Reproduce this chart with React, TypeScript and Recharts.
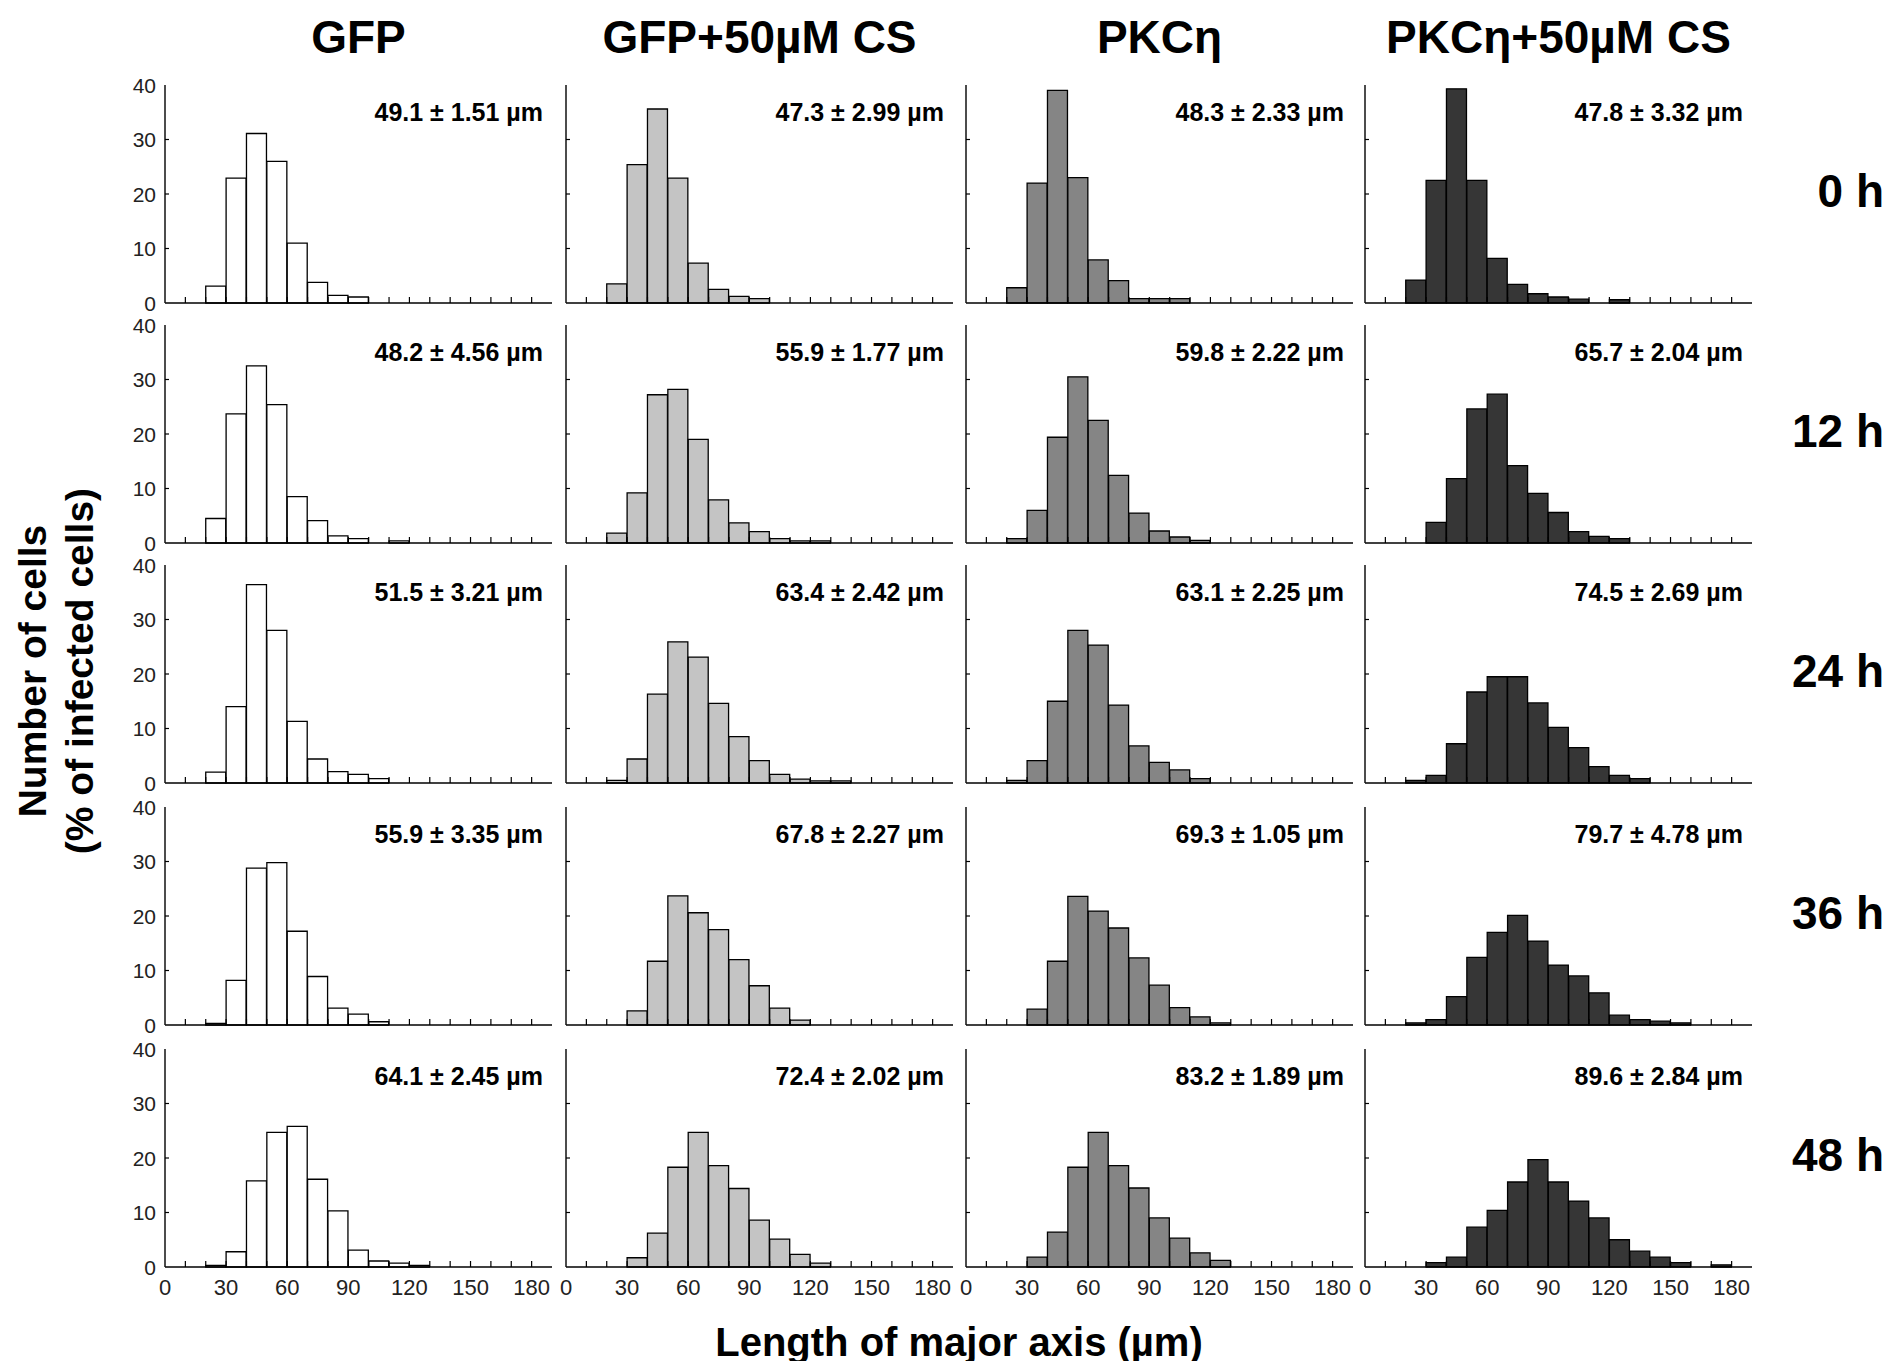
import { BarChart, Bar, XAxis, YAxis } from "recharts";

// histogram bins of 10 µm, 0-10 ... 180-190 (bin centres)
const BIN_MID = [5, 15, 25, 35, 45, 55, 65, 75, 85, 95, 105, 115, 125, 135, 145, 155, 165, 175, 185];
const X_TICKS = [0, 10, 20, 30, 40, 50, 60, 70, 80, 90, 100, 110, 120, 130, 140, 150, 160, 170, 180, 190];
const Y_TICKS = [0, 10, 20, 30, 40];

const GROUPS = ["GFP", "GFP+50µM CS", "PKCη", "PKCη+50µM CS"];
const TIMES = ["0 h", "12 h", "24 h", "36 h", "48 h"];

// % of infected cells per bin
const GFP_0H = [0, 0, 3.1, 22.9, 31.1, 26, 11, 3.8, 1.4, 1.1, 0, 0, 0, 0, 0, 0, 0, 0, 0];
const GFP_12H = [0, 0, 4.5, 23.7, 32.5, 25.4, 8.5, 4.1, 1.3, 0.8, 0, 0.4, 0, 0, 0, 0, 0, 0, 0];
const GFP_24H = [0, 0, 2.0, 14, 36.4, 28, 11.3, 4.4, 2.1, 1.6, 0.8, 0, 0, 0, 0, 0, 0, 0, 0];
const GFP_36H = [0, 0, 0.3, 8.2, 28.8, 29.8, 17.2, 8.9, 3.1, 2.0, 0.6, 0, 0, 0, 0, 0, 0, 0, 0];
const GFP_48H = [0, 0, 0.3, 2.8, 15.8, 24.7, 25.8, 16.1, 10.3, 3.1, 1.1, 0.7, 0.3, 0, 0, 0, 0, 0, 0];

const GFPCS_0H = [0, 0, 3.5, 25.4, 35.6, 22.9, 7.3, 2.5, 1.2, 0.8, 0, 0, 0, 0, 0, 0, 0, 0, 0];
const GFPCS_12H = [0, 0, 1.8, 9.2, 27.2, 28.2, 19, 7.9, 3.7, 2.1, 0.8, 0.4, 0.4, 0, 0, 0, 0, 0, 0];
const GFPCS_24H = [0, 0, 0.5, 4.4, 16.3, 25.9, 23.1, 14.6, 8.5, 4.1, 1.6, 0.7, 0.4, 0.4, 0, 0, 0, 0, 0];
const GFPCS_36H = [0, 0, 0, 2.6, 11.7, 23.7, 20.6, 17.5, 12, 7.2, 3.1, 0.9, 0, 0, 0, 0, 0, 0, 0];
const GFPCS_48H = [0, 0, 0, 1.7, 6.2, 18.3, 24.7, 18.6, 14.4, 8.6, 5.1, 2.3, 0.7, 0, 0, 0, 0, 0, 0];

const PKC_0H = [0, 0, 2.8, 22, 39, 23, 7.9, 4.1, 0.8, 0.8, 0.8, 0, 0, 0, 0, 0, 0, 0, 0];
const PKC_12H = [0, 0, 0.8, 6, 19.4, 30.5, 22.5, 12.4, 5.5, 2.2, 1.1, 0.5, 0, 0, 0, 0, 0, 0, 0];
const PKC_24H = [0, 0, 0.5, 4.1, 15, 28, 25.3, 14.3, 6.8, 3.8, 2.4, 0.8, 0, 0, 0, 0, 0, 0, 0];
const PKC_36H = [0, 0, 0, 2.9, 11.7, 23.6, 20.9, 17.8, 12.3, 7.3, 3.2, 1.5, 0.4, 0, 0, 0, 0, 0, 0];
const PKC_48H = [0, 0, 0, 1.8, 6.4, 18.3, 24.7, 18.6, 14.5, 9, 5.3, 2.6, 1.2, 0, 0, 0, 0, 0, 0];

const PKCCS_0H = [0, 0, 4.2, 22.5, 39.3, 22.5, 8.2, 3.4, 1.7, 1.1, 0.7, 0, 0.6, 0, 0, 0, 0, 0, 0];
const PKCCS_12H = [0, 0, 0, 3.8, 11.8, 24.6, 27.3, 14.2, 9.1, 5.6, 2.1, 1.2, 0.8, 0, 0, 0, 0, 0, 0];
const PKCCS_24H = [0, 0, 0.5, 1.4, 7.2, 16.7, 19.5, 19.5, 14.7, 10.2, 6.5, 3, 1.4, 0.8, 0, 0, 0, 0, 0];
const PKCCS_36H = [0, 0, 0.4, 1, 5.2, 12.4, 17, 20.1, 15.4, 11, 9, 5.9, 1.8, 1, 0.7, 0.4, 0, 0, 0];
const PKCCS_48H = [0, 0, 0, 0.8, 1.8, 7.3, 10.4, 15.6, 19.7, 15.6, 12.1, 9, 5, 2.9, 1.8, 0.8, 0, 0.4, 0];

// mean ± s.e. of the major axis
const GFP_MEANS = ["49.1 ± 1.51 µm", "48.2 ± 4.56 µm", "51.5 ± 3.21 µm", "55.9 ± 3.35 µm", "64.1 ± 2.45 µm"];
const GFPCS_MEANS = ["47.3 ± 2.99 µm", "55.9 ± 1.77 µm", "63.4 ± 2.42 µm", "67.8 ± 2.27 µm", "72.4 ± 2.02 µm"];
const PKC_MEANS = ["48.3 ± 2.33 µm", "59.8 ± 2.22 µm", "63.1 ± 2.25 µm", "69.3 ± 1.05 µm", "83.2 ± 1.89 µm"];
const PKCCS_MEANS = ["47.8 ± 3.32 µm", "65.7 ± 2.04 µm", "74.5 ± 2.69 µm", "79.7 ± 4.78 µm", "89.6 ± 2.84 µm"];

const COLUMNS = [
  { series: [GFP_0H, GFP_12H, GFP_24H, GFP_36H, GFP_48H], means: GFP_MEANS, fill: "#ffffff" },
  { series: [GFPCS_0H, GFPCS_12H, GFPCS_24H, GFPCS_36H, GFPCS_48H], means: GFPCS_MEANS, fill: "#c4c4c4" },
  { series: [PKC_0H, PKC_12H, PKC_24H, PKC_36H, PKC_48H], means: PKC_MEANS, fill: "#858585" },
  { series: [PKCCS_0H, PKCCS_12H, PKCCS_24H, PKCCS_36H, PKCCS_48H], means: PKCCS_MEANS, fill: "#363636" },
];

// layout of the plot boxes (page pixels)
const COL_LEFT = [165, 566, 966, 1365];
const ROW_TOP = [85, 325, 565, 807, 1049];
const PLOT_W = 387;
const PLOT_H = 218;
const M = 5;
const M_TOP = 14;
const Y_AXIS_W = 45;
const X_AXIS_H = 40;

const FONT = "'Liberation Sans', Arial, Helvetica, sans-serif";

function XTick(props: any) {
  const { x, y, payload, showLabel } = props;
  const v = payload.value;
  return (
    <g>
      {v > 0 && v < 190 && <line x1={x} x2={x} y1={y} y2={y - 6} stroke="#000" strokeWidth={1.2} />}
      {showLabel && v % 30 === 0 && v <= 180 && (
        <text x={x} y={y + 28} textAnchor="middle" fontSize={22} fontFamily={FONT} fill="#222">
          {v}
        </text>
      )}
    </g>
  );
}

function YTick(props: any) {
  const { x, y, payload, showLabel } = props;
  const v = payload.value;
  return (
    <g>
      {v > 0 && v < 40 && <line x1={x} x2={x + 4} y1={y} y2={y} stroke="#000" strokeWidth={1.2} />}
      {showLabel && (
        <text x={x - 9} y={y} textAnchor="end" dominantBaseline="central" fontSize={21} fontFamily={FONT} fill="#222">
          {v}
        </text>
      )}
    </g>
  );
}

function Panel({ values, fill, left, top, yLabels, xLabels }: any) {
  const data = BIN_MID.map((mid, i) => ({ mid, v: values[i] }));
  return (
    <div style={{ position: "absolute", left: left - M - Y_AXIS_W, top: top - M_TOP }}>
      <BarChart
        width={M + Y_AXIS_W + PLOT_W + M}
        height={M_TOP + PLOT_H + X_AXIS_H + M}
        data={data}
        margin={{ top: M_TOP, right: M, bottom: M, left: M }}
        barCategoryGap={0}
        barGap={0}
      >
        <XAxis
          xAxisId="b"
          type="number"
          dataKey="mid"
          domain={[0, 190]}
          ticks={X_TICKS}
          interval={0}
          height={X_AXIS_H}
          tickSize={0}
          tickMargin={0}
          tickLine={false}
          axisLine={{ stroke: "#000", strokeWidth: 1.6 }}
          tick={(p: any) => <XTick {...p} showLabel={xLabels} />}
        />
        <XAxis
          xAxisId="t"
          orientation="top"
          type="number"
          domain={[0, 190]}
          height={0}
          tick={false}
          tickLine={false}
          axisLine={{ stroke: "#8c8c8c", strokeWidth: 1.5 }}
        />
        <YAxis
          yAxisId="l"
          type="number"
          domain={[0, 40]}
          ticks={Y_TICKS}
          interval={0}
          width={Y_AXIS_W}
          tickSize={0}
          tickMargin={0}
          tickLine={false}
          axisLine={{ stroke: "#111", strokeWidth: 1.5 }}
          tick={(p: any) => <YTick {...p} showLabel={yLabels} />}
        />
        <YAxis
          yAxisId="r"
          orientation="right"
          type="number"
          domain={[0, 40]}
          width={0}
          tick={false}
          tickLine={false}
          axisLine={{ stroke: "#8c8c8c", strokeWidth: 1.5 }}
        />
        <Bar
          xAxisId="b"
          yAxisId="l"
          dataKey="v"
          fill={fill}
          stroke="#000"
          strokeWidth={1.3}
          isAnimationActive={false}
        />
      </BarChart>
    </div>
  );
}

export default function App() {
  return (
    <div
      style={{
        position: "relative",
        width: 1894,
        height: 1369,
        margin: -8,
        overflow: "hidden",
        background: "#fff",
        fontFamily: FONT,
        color: "#000",
      }}
    >
      {COLUMNS.map((col, c) =>
        col.series.map((values, r) => (
          <Panel
            key={`${c}-${r}`}
            values={values}
            fill={col.fill}
            left={COL_LEFT[c]}
            top={ROW_TOP[r]}
            yLabels={c === 0}
            xLabels={r === ROW_TOP.length - 1}
          />
        ))
      )}

      {/* mean ± s.e. annotations */}
      {COLUMNS.map((col, c) =>
        col.means.map((txt, r) => (
          <div
            key={`m-${c}-${r}`}
            style={{
              position: "absolute",
              left: COL_LEFT[c],
              width: PLOT_W - 9,
              top: ROW_TOP[r] + 15,
              textAlign: "right",
              fontSize: 25,
              lineHeight: 1,
              fontWeight: "bold",
              whiteSpace: "nowrap",
            }}
          >
            {txt}
          </div>
        ))
      )}

      {/* column titles */}
      {GROUPS.map((g, c) => (
        <div
          key={g}
          style={{
            position: "absolute",
            left: COL_LEFT[c] + PLOT_W / 2 - 250,
            width: 500,
            top: 14,
            textAlign: "center",
            fontSize: 46,
            lineHeight: 1,
            fontWeight: "bold",
          }}
        >
          {g}
        </div>
      ))}

      {/* time labels */}
      {TIMES.map((t, r) => (
        <div
          key={t}
          style={{
            position: "absolute",
            right: 1894 - 1884,
            top: ROW_TOP[r] + 122 - 39,
            fontSize: 46,
            lineHeight: 1,
            fontWeight: "bold",
            whiteSpace: "nowrap",
          }}
        >
          {t}
        </div>
      ))}

      {/* y-axis title */}
      <div
        style={{
          position: "absolute",
          left: 56 - 250,
          top: 671 - 50,
          width: 500,
          height: 100,
          display: "flex",
          flexDirection: "column",
          justifyContent: "center",
          alignItems: "center",
          transform: "rotate(-90deg)",
          fontSize: 39,
          lineHeight: "47px",
          fontWeight: "bold",
          whiteSpace: "nowrap",
        }}
      >
        <div>Number of cells</div>
        <div>(% of infected cells)</div>
      </div>

      {/* x-axis title */}
      <div
        style={{
          position: "absolute",
          left: 959 - 400,
          width: 800,
          top: 1322,
          textAlign: "center",
          fontSize: 40,
          lineHeight: 1,
          fontWeight: "bold",
        }}
      >
        Length of major axis (µm)
      </div>
    </div>
  );
}
